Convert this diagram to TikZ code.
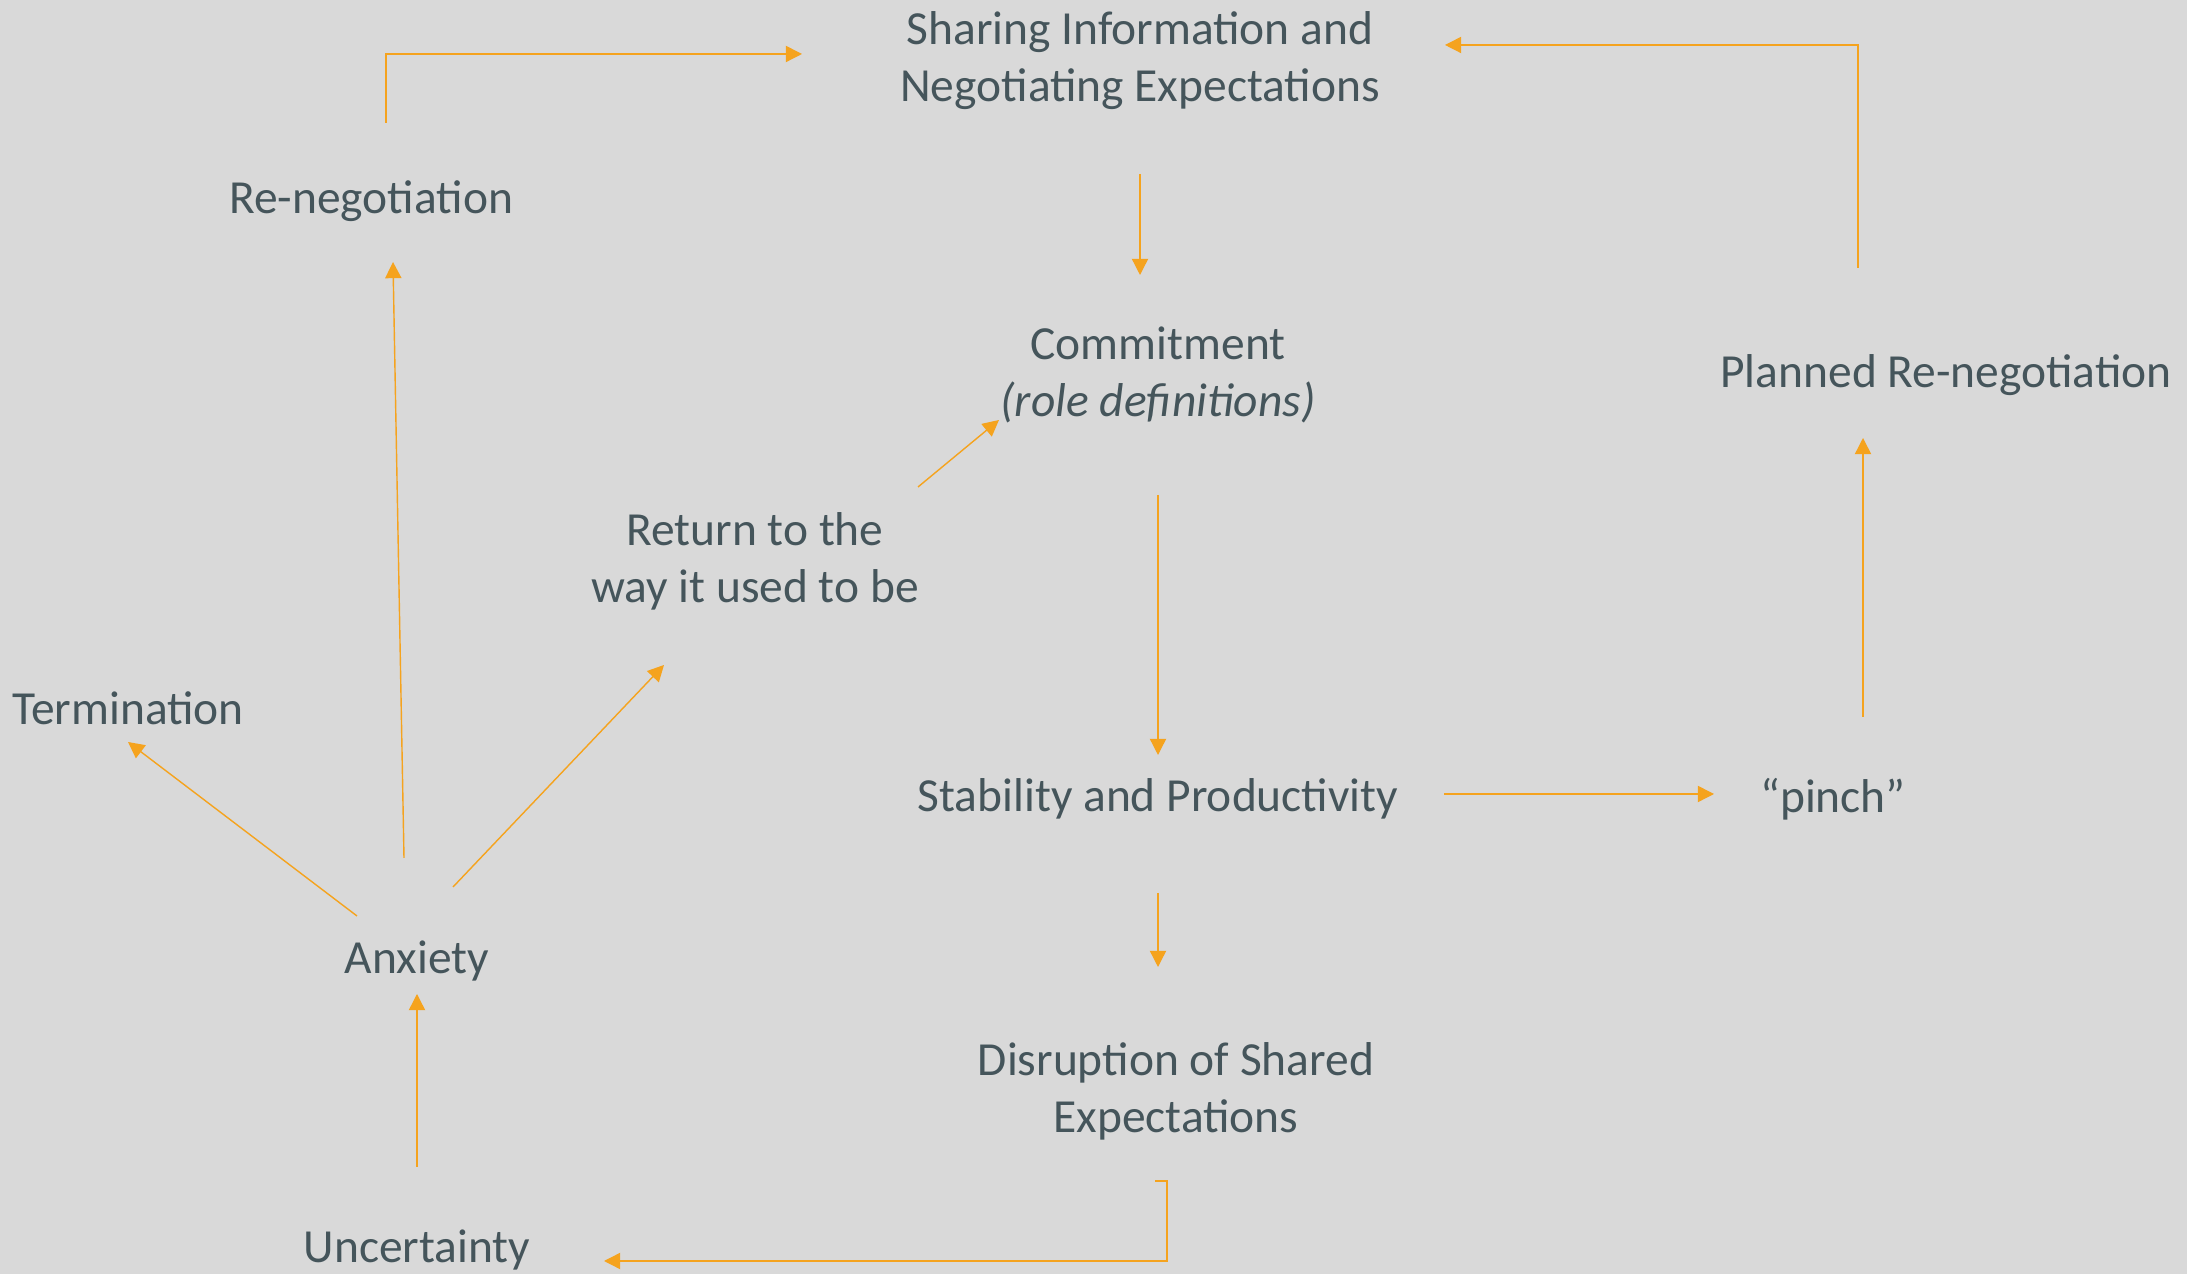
\documentclass[tikz,border=0pt]{standalone}
\usepackage{fontspec}
\setmainfont{Carlito}
\usetikzlibrary{arrows.meta}
\definecolor{slate}{RGB}{69,85,91}
\definecolor{amber}{RGB}{245,163,30}
\definecolor{backdrop}{RGB}{217,217,217}
\tikzset{>={Triangle[length=4.6pt,width=4.6pt]}, line width=0.85pt}

\begin{document}
\begin{tikzpicture}[x=0.01cm,y=-0.01cm,
  stage/.style={align=center,inner sep=0pt,text=slate,
    font=\fontsize{13.5}{16.2}\selectfont},
  flow/.style={->,draw=amber}]

  % canvas
  \useasboundingbox (0,0) rectangle (2187,1274);
  \fill[backdrop] (0,0) rectangle (2187,1274);

  % stages of the cycle
  \node[stage] (share) at (1140,61) {Sharing Information and\\Negotiating Expectations};
  \node[stage] (reneg) at (371,201) {Re-negotiation};
  \node[stage] (commit) at (1158,375) {Commitment\\\textit{(role definitions)}};
  \node[stage] (plan) at (1946,375) {Planned Re-negotiation};
  \node[stage] (ret) at (755,561) {Return to the\\way it used to be};
  \node[stage] (term) at (128,708) {Termination};
  \node[stage] (stab) at (1158,799) {Stability and Productivity};
  \node[stage] (pinch) at (1833,799) {“pinch”};
  \node[stage] (anx) at (417,961) {Anxiety};
  \node[stage] (disr) at (1176,1091) {Disruption of Shared\\Expectations};
  \node[stage] (unc) at (417,1250) {Uncertainty};

  % main loop
  \draw[flow] ([shift={(0,113)}]share.center) -- ([shift={(-18,-100)}]commit.center);
  \draw[flow] ([shift={(0,120)}]commit.center) -- ([shift={(0,-44)}]stab.center);
  \draw[flow] ([shift={(0,94)}]stab.center) -- ([shift={(-18,-124)}]disr.center);
  \draw[flow] ([shift={(-21,90)}]disr.center) -- ++(12,0)
    |- ([shift={(187,11)}]unc.center);
  \draw[flow] ([shift={(0,-83)}]unc.center) -- ([shift={(0,33)}]anx.center);

  % ways out of anxiety
  \draw[flow] ([shift={(-60,-45)}]anx.center) -- ([shift={(0,34)}]term.center);
  \draw[flow] ([shift={(-13,-103)}]anx.center) -- ([shift={(22,61)}]reneg.center);
  \draw[flow] ([shift={(36,-74)}]anx.center) -- ([shift={(-91,104)}]ret.center);
  \draw[flow] ([shift={(163,-74)}]ret.center) -- ([shift={(-159,45)}]commit.center);
  \draw[flow] ([shift={(15,-78)}]reneg.center) |- ([shift={(-338,-7)}]share.center);

  % planned branch
  \draw[flow] ([shift={(286,-5)}]stab.center) -- ([shift={(-119,-5)}]pinch.center);
  \draw[flow] ([shift={(30,-82)}]pinch.center) -- ([shift={(-83,63)}]plan.center);
  \draw[flow] ([shift={(-88,-107)}]plan.center) |- ([shift={(305,-16)}]share.center);
\end{tikzpicture}
\end{document}
